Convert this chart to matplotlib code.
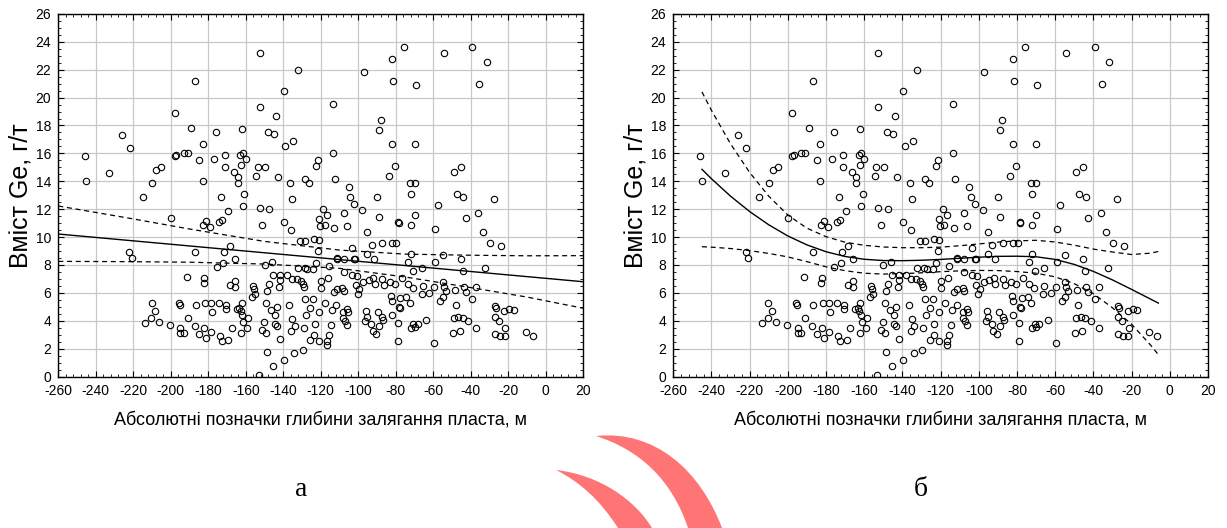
import numpy as np
import matplotlib
matplotlib.use("Agg")
import matplotlib.pyplot as plt
from matplotlib.ticker import MultipleLocator
from matplotlib.path import Path
from matplotlib.patches import PathPatch

plt.rcParams['font.family'] = ['Liberation Sans', 'DejaVu Sans']
plt.rcParams['axes.unicode_minus'] = False

# ---- data: (absolute depth mark, m ; Ge content, g/t) ----
pts_upper = [
    (-246, 15.8), (-245, 14.0), (-233, 14.6), (-226, 17.3), (-222, 16.4), (-215, 12.9), (-210, 13.9),
    (-208, 14.8), (-205, 15.0), (-198, 18.9), (-198, 15.8), (-197, 15.9), (-193, 16.0), (-191, 16.0),
    (-189, 17.8), (-187, 21.2), (-185, 15.5),
    (-183, 16.65), (-183, 14.0), (-176, 17.5), (-177, 15.6), (-173, 12.9), (-171, 15.9), (-171, 15.05),
    (-166.5, 14.7), (-164.4, 14.3), (-164.4, 13.9), (-163, 15.9), (-161.7, 16.0), (-162, 17.75),
    (-162.4, 15.2), (-160, 15.6), (-160.8, 13.1),
    (-153.7, 15.05), (-154.6, 14.4), (-152.6, 23.2), (-152.6, 19.3), (-149.6, 15.0), (-148, 17.5),
    (-144.8, 17.4), (-143.9, 18.7), (-142.8, 14.3), (-139.5, 20.45), (-138.9, 16.5), (-136.3, 13.9),
    (-135.2, 12.7), (-134.7, 16.9), (-132.2, 21.95), (-128.3, 14.2), (-126.1, 13.9), (-122.6, 15.1),
    (-121.5, 15.55), (-113.3, 19.55), (-113.3, 16.0), (-112.3, 14.2),
]
pts_upper_right = [
    (-105.2, 13.6), (-104.3, 12.9), (-97.2, 21.8), (-88.8, 17.7), (-87.9, 18.4), (-89.9, 12.9),
    (-83.6, 14.4), (-82.2, 22.8), (-81.7, 21.2), (-82.2, 16.65), (-80.6, 15.1), (-75.6, 23.65),
    (-72.6, 13.85), (-70, 13.85), (-72.1, 13.1), (-70, 16.65), (-69.4, 20.9), (-54.1, 23.2),
    (-49.2, 14.7), (-45.4, 15.0), (-47.6, 13.1), (-44, 12.9), (-39.4, 23.6), (-35.5, 21.0),
    (-31.6, 22.55), (-27.8, 12.75),
]
pts_left_low = [
    (-200.1, 11.4), (-222.1, 8.95), (-220.9, 8.5), (-186.9, 8.9), (-191.6, 7.15), (-210.2, 5.25),
    (-208.3, 4.7), (-210.4, 4.2), (-206.3, 3.9), (-213.8, 3.85), (-200.6, 3.7), (-195.5, 5.3),
    (-195.3, 5.15), (-186.6, 5.1), (-191, 4.2), (-194.9, 3.5), (-194.9, 3.15), (-193, 3.15),
    (-187.3, 3.6), (-184.8, 3.05),
]
pts_center_high = [
    (-161.5, 12.25), (-169.5, 11.9), (-152.6, 12.1), (-147.5, 12.0), (-181.2, 11.15), (-182.7, 10.85),
    (-179.1, 10.75), (-174.3, 11.1), (-172.9, 11.2), (-151.2, 10.9), (-139.5, 11.1), (-135.7, 10.5),
    (-119, 12.0), (-116.5, 11.6), (-121, 11.3), (-120.4, 10.8), (-118, 10.85), (-112.8, 10.65),
    (-171.6, 8.95), (-168.4, 9.35), (-172.2, 8.15), (-166, 8.4), (-175.6, 7.85), (-182.3, 7.1),
    (-182.5, 6.7), (-168.4, 6.6), (-166, 6.85), (-165.8, 6.45), (-156.4, 6.5), (-155.8, 6.25),
    (-155.3, 5.9), (-156.9, 5.7), (-150, 8.0), (-146, 8.25), (-145.3, 7.25), (-147.5, 6.65),
    (-148.5, 6.15), (-141.8, 7.25), (-141.6, 6.9), (-142.1, 6.4), (-137.9, 7.3), (-135.4, 7.0),
    (-132.9, 6.97), (-130.6, 6.85), (-129.7, 6.65), (-129, 6.4), (-132.2, 7.8), (-128.6, 7.8),
    (-127.4, 7.7), (-124.2, 7.7), (-122.4, 8.15), (-115.8, 7.95), (-116.4, 7.1), (-119.9, 6.85),
    (-119.7, 6.35), (-113, 6.05), (-111.6, 6.3), (-130.9, 9.7), (-128.4, 9.7), (-123.6, 9.85),
    (-121, 9.8), (-121.5, 9.0), (-111.4, 8.5),
]
pts_center_low = [
    (-181.8, 5.25), (-178.6, 5.25), (-178, 4.6), (-174.5, 5.3), (-170.4, 5.1), (-170.4, 4.85),
    (-164.7, 4.85), (-163.5, 4.95), (-162, 5.3), (-162.6, 4.7), (-161.9, 4.4), (-161.3, 3.9),
    (-158.8, 4.2), (-159.2, 3.5), (-162.4, 3.1),
    (-182.1, 3.45), (-181.2, 2.8), (-178.6, 3.2), (-173.6, 2.9), (-172.9, 2.55), (-169.3, 2.65),
    (-167.6, 3.45),
    (-149.1, 5.25), (-146.6, 4.8), (-143.6, 4.97), (-144.6, 4.4), (-144.3, 3.75), (-143.4, 3.6),
    (-150.1, 3.9), (-151.4, 3.35), (-149.4, 3.1), (-141.8, 2.7), (-136.8, 5.15), (-135.2, 4.15),
    (-133.8, 3.6), (-135.7, 3.25), (-129.2, 3.5), (-128.4, 5.55), (-127.7, 4.45), (-125.6, 4.9),
    (-124.2, 5.55), (-123.3, 3.8), (-123.6, 3.0), (-125.6, 2.6), (-121, 4.6), (-121, 2.55),
    (-117.8, 5.3), (-115.5, 2.98), (-116.9, 2.55), (-116.9, 2.3), (-114.4, 3.7), (-113.9, 4.75),
    (-111.7, 5.1),
    (-148.5, 1.75), (-145.5, 0.75), (-139.8, 1.2), (-134.1, 1.7), (-129.7, 1.9), (-153.2, 0.15),
]
pts_right_center = [
    (-102.1, 12.4), (-107.6, 11.7), (-106.2, 10.8), (-98, 11.95), (-95.4, 10.35), (-88.8, 11.45),
    (-78.7, 11.1), (-78.2, 11.0), (-72.1, 10.9), (-70, 11.6), (-59.3, 10.6), (-57.3, 12.3),
    (-42.6, 11.4), (-36, 11.75),
    (-103.6, 9.2), (-92.9, 9.45), (-87.4, 9.55), (-82.2, 9.6), (-79.7, 9.6), (-111.2, 8.45),
    (-107.8, 8.45), (-102.1, 8.45), (-101.5, 8.4), (-95.4, 8.8), (-91.5, 8.4), (-72.1, 8.8),
    (-73.5, 8.2), (-70.8, 7.55), (-65.9, 7.75), (-58.9, 8.25), (-54.7, 8.75), (-45.4, 8.45),
    (-44.3, 7.6),
    (-107.8, 7.5), (-103.4, 7.3), (-100.9, 7.2), (-97.5, 6.8), (-94.5, 6.95), (-92, 7.1),
    (-91.3, 6.65), (-87.4, 7.0), (-86.3, 6.6), (-83.1, 6.8), (-80.6, 6.65), (-76.7, 7.05),
    (-73.5, 6.65), (-71, 6.35), (-101.4, 6.55), (-99.5, 6.3), (-100.4, 5.9), (-108.5, 6.35),
    (-107.8, 6.15), (-65.7, 6.5), (-62.1, 6.0), (-66.2, 5.9), (-59.5, 6.4), (-55, 6.8),
    (-54.1, 6.45), (-53.2, 6.15), (-56.6, 5.45), (-55, 5.7), (-48.5, 6.2), (-43.8, 6.4),
    (-42.6, 6.05), (-37.3, 6.4), (-39.4, 5.55),
    (-82.4, 5.8), (-82.2, 5.45), (-77.6, 5.6), (-74.4, 5.7), (-72.6, 5.3), (-78.5, 5.0),
    (-78, 4.9), (-81.9, 4.45),
    (-106.2, 4.85), (-105.5, 4.6), (-108.4, 4.6), (-108.4, 4.2), (-107.3, 4.0), (-106.2, 3.7),
    (-95.9, 4.7), (-95.4, 4.3), (-96.3, 4.0), (-93.1, 3.8), (-92.4, 3.3), (-90.4, 3.05),
    (-88.8, 3.6), (-89.7, 4.6), (-87.4, 4.3), (-86.8, 4.05), (-79, 3.85), (-72.1, 3.45),
    (-70, 3.55), (-70.7, 3.8), (-68.4, 3.75), (-63.7, 4.05), (-79, 2.55), (-59.8, 2.4),
    (-48.1, 5.1), (-49.2, 4.2), (-46.7, 4.3), (-44.3, 4.2), (-41.3, 3.95), (-49.7, 3.15),
    (-46, 3.3), (-37.3, 3.45),
]
pts_far_right = [
    (-33.3, 10.35), (-29.6, 9.6), (-24.1, 9.35), (-32.3, 7.75), (-26.9, 5.05), (-26.7, 4.95),
    (-27.1, 4.3), (-25, 3.95), (-22.1, 4.7), (-19.5, 4.85), (-17, 4.75), (-21.6, 3.5),
    (-26.9, 3.05), (-24.4, 2.9), (-22, 2.9), (-10.8, 3.2), (-6.7, 2.9),
]

# ---- fitted curves ----
# (a) linear regression with 95 % confidence band
lin_fit_x = [-260, 20]
lin_fit_y = [10.22, 6.80]
lin_band_x = [-260, -222, -190, -150, -110, -75, -40, -10, 20]
lin_upper = [12.23, 11.35, 10.58, 9.69, 9.07, 8.78, 8.70, 8.66, 8.67]
lin_lower = [8.26, 8.24, 8.20, 8.07, 7.76, 7.14, 6.38, 5.70, 4.90]
# (б) polynomial regression with 95 % confidence band
poly_x = [-245, -240, -230, -220, -210, -200, -190, -180, -170, -160, -150, -140, -130,
          -120, -110, -100, -90, -80, -70, -60, -50, -40, -30, -20, -10, -6]
poly_fit = [14.86, 14.18, 12.93, 11.83, 10.88, 10.08, 9.44, 8.95, 8.61, 8.41, 8.32, 8.31, 8.34,
            8.40, 8.48, 8.56, 8.62, 8.63, 8.59, 8.40, 8.04, 7.54, 6.93, 6.25, 5.55, 5.27]
poly_upper = [20.41, 19.08, 16.68, 14.63, 12.93, 11.58, 10.64, 10.03, 9.63, 9.41, 9.29, 9.24,
              9.24, 9.28, 9.38, 9.51, 9.64, 9.73, 9.77, 9.65, 9.42, 9.14, 8.93, 8.75, 8.85, 8.97]
poly_lower = [9.31, 9.28, 9.18, 9.03, 8.83, 8.58, 8.24, 7.87, 7.59, 7.41, 7.35, 7.38, 7.44,
              7.52, 7.58, 7.61, 7.60, 7.53, 7.41, 7.15, 6.66, 5.94, 4.93, 3.75, 2.25, 1.57]

x_ticks = list(range(-260, 21, 20))
y_ticks = list(range(0, 27, 2))
x_label = "Абсолютні позначки глибини залягання пласта, м"
y_label = "Вміст Ge, г/т"
panel_letters = ["а", "б"]

pts = np.array(pts_upper + pts_upper_right + pts_left_low + pts_center_high +
               pts_center_low + pts_right_center + pts_far_right, dtype=float)
depth, ge = pts[:, 0], pts[:, 1]

curves = [
    [(lin_fit_x, lin_fit_y, '-'), (lin_band_x, lin_upper, '--'), (lin_band_x, lin_lower, '--')],
    [(poly_x, poly_fit, '-'), (poly_x, poly_upper, '--'), (poly_x, poly_lower, '--')],
]

W, H = 1227, 528
fig = plt.figure(figsize=(W / 100, H / 100), dpi=100)
ax_rects = [(58.3, 583.3), (673.3, 1208.0)]
top_px, bot_px = 13.9, 376.6

for i, (l, r) in enumerate(ax_rects):
    ax = fig.add_axes([l / W, (H - bot_px) / H, (r - l) / W, (bot_px - top_px) / H])
    ax.set_xlim(x_ticks[0], x_ticks[-1])
    ax.set_ylim(y_ticks[0], y_ticks[-1])
    ax.set_xticks(x_ticks)
    ax.set_yticks(y_ticks)
    ax.xaxis.set_minor_locator(MultipleLocator(4))
    ax.yaxis.set_minor_locator(MultipleLocator(0.5))
    ax.grid(True, which='major', color='#c8c8c8', linewidth=0.9, zorder=0)
    ax.set_axisbelow(True)
    ax.tick_params(which='both', direction='in', top=True, right=True, colors='black',
                   labelsize=10, pad=5)
    ax.tick_params(which='major', length=4, width=0.8)
    ax.tick_params(which='minor', length=2, width=0.6)
    for s in ax.spines.values():
        s.set_linewidth(1.0)
        s.set_color('black')

    ax.plot(depth, ge, linestyle='none', marker='o', markersize=4.6, markerfacecolor='none',
            markeredgecolor='black', markeredgewidth=0.8, zorder=3)

    for cx_, cy_, ls in curves[i]:
        if ls == '-':
            ax.plot(cx_, cy_, color='black', linewidth=1.0, zorder=4)
        else:
            ax.plot(cx_, cy_, color='black', linewidth=0.9, linestyle=(0, (4, 3)), zorder=4)

    cx = (l + r) / 2 / W
    fig.text(cx, (H - 420) / H, x_label, ha='center', va='center', fontsize=13)
    fig.text((l - 38) / W, (H - (top_px + bot_px) / 2) / H, y_label, rotation=90,
             ha='center', va='center', fontsize=18)
    fig.text(cx - 20 / W, (H - 490) / H, panel_letters[i], ha='center', va='center',
             fontsize=20, family=['Liberation Serif', 'DejaVu Serif'])


# decorative pink swoosh (scan watermark) below the panels, in pixel coordinates
def fig_xy(px, py):
    return (px / W, 1 - py / H)


swooshes = [
    [(596, 436), (655, 430), (700, 470), (722, 528), (688, 528), (672, 480), (640, 450), (596, 436)],
    [(556, 470), (600, 475), (635, 500), (652, 528), (618, 528), (600, 500), (580, 482), (556, 470)],
]
codes = [Path.MOVETO, Path.CURVE4, Path.CURVE4, Path.CURVE4, Path.LINETO,
         Path.CURVE4, Path.CURVE4, Path.CURVE4]
for sw in swooshes:
    path = Path([fig_xy(*p) for p in sw], codes)
    fig.add_artist(PathPatch(path, transform=fig.transFigure, facecolor='#ff7474',
                             edgecolor='none', zorder=1))

fig.savefig("out.png", dpi=100)
